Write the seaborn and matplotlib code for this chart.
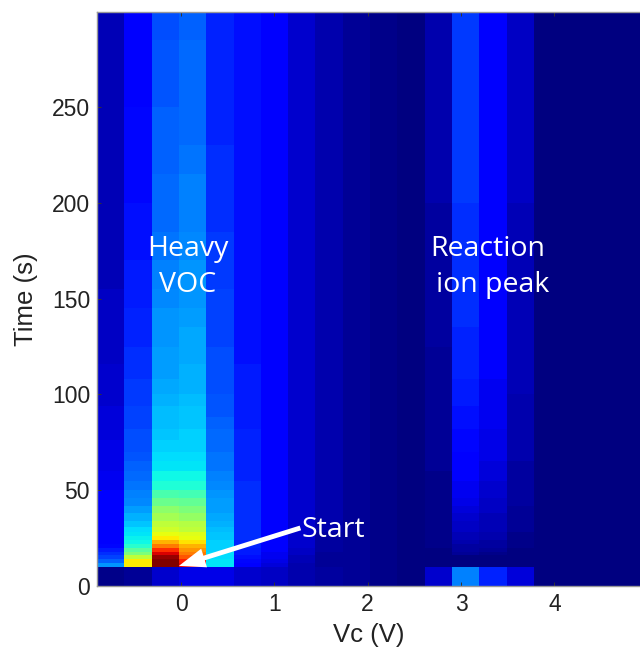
import numpy as np
import pandas as pd
import matplotlib
matplotlib.use("Agg")
import matplotlib.pyplot as plt
import seaborn as sns

# Largura de cada faixa de tempo (s), de baixo para cima
faixas_s = [10, 2, 2, 2, 2, 2, 2, 2, 2, 2, 3, 3, 4, 4, 4, 4, 5, 5, 5, 5,
            6, 6, 6, 6, 6, 8, 8, 9, 10, 10, 10, 15, 15, 15, 15, 15, 20, 15, 20, 15]

# Intensidade, uma lista por coluna de Vc
c00 = [.01, .27, .22, .19, .17, .15, .13, .12, .11, .11, .11, .11, .11, .11, .11, .11, .10, .10, .09, .09,
       .09, .08, .08, .08, .07, .07, .07, .06, .06, .06, .06, .05, .05, .05, .05, .05, .05, .05, .05, .05]
c01 = [.02, .66, .66, .58, .50, .46, .40, .37, .36, .35, .34, .32, .30, .28, .26, .25, .24, .23, .22, .21,
       .20, .20, .19, .19, .18, .18, .17, .17, .16, .16, .15, .15, .14, .14, .13, .13, .13, .12, .12, .11]
c02 = [.07, 1.0, 1.0, .98, .92, .86, .78, .72, .66, .63, .60, .58, .55, .52, .48, .44, .39, .37, .35, .34,
       .33, .32, .31, .31, .30, .29, .28, .28, .27, .27, .26, .25, .24, .23, .23, .22, .22, .21, .21, .20]
c03 = [.09, .90, .88, .82, .78, .75, .72, .67, .63, .62, .58, .57, .53, .50, .47, .43, .39, .37, .35, .34,
       .33, .33, .32, .32, .31, .30, .30, .29, .29, .28, .27, .27, .26, .25, .25, .24, .23, .23, .23, .22]
c04 = [.09, .35, .35, .34, .34, .33, .33, .33, .32, .32, .31, .30, .29, .28, .28, .27, .26, .25, .24, .24,
       .23, .23, .22, .21, .21, .20, .20, .20, .19, .19, .19, .18, .18, .17, .17, .17, .16, .16, .16, .16]
c05 = [.07, .12, .13, .14, .15, .15, .16, .16, .17, .17, .17, .17, .17, .17, .17, .17, .17, .16, .16, .16,
       .16, .16, .15, .15, .15, .15, .15, .14, .14, .14, .14, .14, .14, .14, .14, .14, .14, .14, .14, .14]
c06 = [.06, .08, .09, .10, .10, .11, .11, .11, .12, .12, .12, .12, .12, .12, .12, .12, .12, .12, .12, .12,
       .12, .12, .12, .11, .11, .11, .11, .11, .11, .11, .11, .11, .11, .11, .11, .11, .11, .11, .11, .11]
c07 = [.04, .04, .05, .05, .06, .06, .07, .07, .07, .07, .07, .07, .07, .07, .07, .07, .07, .07, .07, .07,
       .07, .07, .07, .07, .07, .07, .07, .07, .07, .07, .07, .07, .07, .07, .07, .07, .07, .07, .07, .07]
c08 = [.03] + [.02] * 4 + [.03] * 5 + [.04] * 30
c09 = [.02] * 40
c10 = [.01] * 40
c11 = [.00] * 40
c12 = [.07] + [.00] * 5 + [.01] * 12 + [.02] * 10 + [.03] * 6 + [.04] * 6
c13 = [.25, .00, .00, .00, .02, .03, .03, .04, .05, .05, .06, .06, .07, .08, .09, .10, .10, .11, .12, .12,
       .13, .13, .14, .14, .15, .15, .16, .16, .16, .17, .17, .17, .17, .17, .18, .18, .18, .18, .18, .18]
c14 = [.16, .00, .00, .00, .01, .02, .03, .03, .04, .04, .05, .05, .05, .06, .06, .07, .07, .08, .08, .09,
       .09, .09, .10, .10, .10, .10, .11, .11, .11, .11, .11, .11, .11, .11, .12, .12, .12, .12, .12, .12]
c15 = [.08] + [.00] * 5 + [.01] * 4 + [.02] * 4 + [.03] * 5 + [.04] * 6 + [.05] * 9 + [.06] * 6
c16 = [.00] * 40
c17 = [.00] * 40
c18 = [.00] * 40
c19 = [.00] * 40
colunas = [c00, c01, c02, c03, c04, c05, c06, c07, c08, c09,
           c10, c11, c12, c13, c14, c15, c16, c17, c18, c19]

vc_ticks = [0, 1, 2, 3, 4]
tempo_ticks = [0, 50, 100, 150, 200, 250]

# Uma linha por segundo para o heatmap
dados = pd.DataFrame(np.repeat(np.array(colunas).T, faixas_s, axis=0))

fig = plt.figure(figsize=(6.4, 6.49), dpi=100)
ax = fig.add_axes([97 / 640, 63 / 649, 543 / 640, 574 / 649])
sns.heatmap(dados, ax=ax, cmap="jet", vmin=0, vmax=1, cbar=False,
            xticklabels=False, yticklabels=False, rasterized=True)

# Vc para a posicao da coluna
vc_ini = -0.9
vc_passo = 0.2925
ax.set_xlim(0, 19.89)
ax.set_ylim(0, 299.6)
ax.set_xticks([(v - vc_ini) / vc_passo for v in vc_ticks])
ax.set_xticklabels(vc_ticks, fontsize=16.5, family="Liberation Sans", color="#222222")
ax.set_yticks(tempo_ticks)
ax.set_yticklabels(tempo_ticks, fontsize=16.5, family="Liberation Sans", color="#222222", rotation=0)
ax.tick_params(direction="in", length=3, width=0.7, color="#333333", top=True, pad=5)
ax.set_xlabel("Vc (V)", fontsize=18.5, family="Liberation Sans", color="#222222", labelpad=5)
ax.set_ylabel("Time (s)", fontsize=18.5, family="Liberation Sans", color="#222222", labelpad=10)

for lado in ["left", "bottom", "top"]:
    ax.spines[lado].set_visible(True)
    ax.spines[lado].set_color("#999999")
    ax.spines[lado].set_linewidth(1)

# Anotacoes em branco
txt = dict(color="white", fontsize=20.5, family="Open Sans", ha="center", va="center")
ax.text(3.33, 176, "Heavy", **txt)
ax.text(3.33, 157, "VOC", **txt)
ax.text(14.3, 176, "Reaction", **txt)
ax.text(14.5, 157, "ion peak", **txt)
ax.text(7.5, 29, "Start", color="white", fontsize=20.5, family="Open Sans", ha="left", va="center")
ax.annotate("", xy=(3.0, 10.5), xytext=(7.45, 30.3),
            arrowprops=dict(facecolor="white", edgecolor="white", linewidth=0, width=3.5,
                            headwidth=14, headlength=19, shrink=0))

fig.savefig("out.png", dpi=100)
